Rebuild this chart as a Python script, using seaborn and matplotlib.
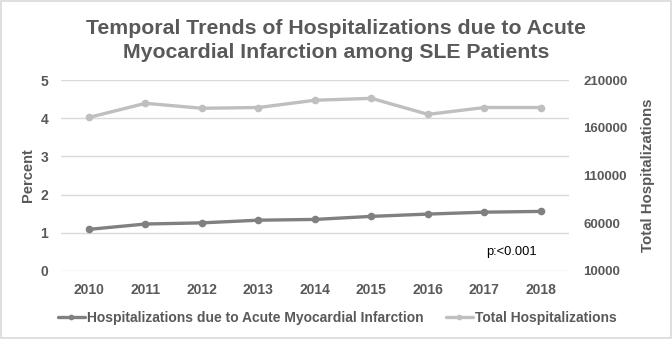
import matplotlib
matplotlib.use("Agg")
import matplotlib.pyplot as plt
import seaborn as sns
import pandas as pd

years = ["2010", "2011", "2012", "2013", "2014", "2015", "2016", "2017", "2018"]
ami_percent = [1.09, 1.23, 1.26, 1.33, 1.35, 1.43, 1.49, 1.54, 1.56]
total_hosp = [170800, 185600, 180400, 181200, 188800, 190800, 174000, 181200, 181200]
left_ticks = [0, 1, 2, 3, 4, 5]
right_ticks = [10000, 60000, 110000, 160000, 210000]

sns.set_theme(style="white")
plt.rcParams["font.family"] = ["Liberation Sans", "DejaVu Sans"]

df = pd.DataFrame({"year": years, "ami": ami_percent, "total": total_hosp})
df["x"] = range(len(years))

TXT = "#595959"
C_AMI = "#808080"
C_TOT = "#bfbfbf"
H = 339.0

fig = plt.figure(figsize=(6.72, 3.39), dpi=100)
ax = fig.add_axes([0.0903, 0.2006, 0.7567, 0.5634])
ax2 = ax.twinx()

sns.lineplot(data=df, x="x", y="ami", ax=ax, color=C_AMI, lw=2.4, marker="o",
             markersize=5.5, markeredgewidth=0, label="Hospitalizations due to Acute Myocardial Infarction", legend=False)
sns.lineplot(data=df, x="x", y="total", ax=ax2, color=C_TOT, lw=2.4, marker="o",
             markersize=5.5, markeredgewidth=0, label="Total Hospitalizations", legend=False)

ax.set_xlim(-0.5, len(years) - 0.5)
ax.set_ylim(0, 5)
ax2.set_ylim(10000, 210000)
ax.set_yticks(left_ticks)
ax2.set_yticks(right_ticks)
ax.set_xticks(range(len(years)))
ax.set_xticklabels(years, fontweight="bold")
ax.set_yticklabels([str(v) for v in left_ticks], fontweight="bold")
ax2.set_yticklabels([str(v) for v in right_ticks], fontweight="bold")
ax.grid(axis="y", color="#d9d9d9", lw=1)
ax.grid(axis="x", visible=False)
ax2.grid(False)
for a in (ax, ax2):
    for s in a.spines.values():
        s.set_visible(False)
    a.tick_params(length=0, colors=TXT)
ax.tick_params(axis="x", labelsize=10, pad=9)
ax.tick_params(axis="y", labelsize=10, pad=9)
ax2.tick_params(axis="y", labelsize=9.5, pad=10)
ax.set_xlabel("")
ax.set_ylabel("Percent", fontsize=10.5, fontweight="bold", color=TXT, labelpad=4)
ax2.set_ylabel("Total Hospitalizations", fontsize=10.8, fontweight="bold", color=TXT, labelpad=10)

ax.text(7.48, 0.5, "p:<0.001", fontsize=9.3, color="#000000", ha="center", va="center")

fig.text(0.5, 1 - 34.5 / H, "Temporal Trends of Hospitalizations due to Acute",
         ha="center", va="baseline", fontsize=15.3, fontweight="bold", color=TXT)
fig.text(0.5, 1 - 58.5 / H, "Myocardial Infarction among SLE Patients",
         ha="center", va="baseline", fontsize=15.3, fontweight="bold", color=TXT)

h1, l1 = ax.get_legend_handles_labels()
h2, l2 = ax2.get_legend_handles_labels()
leg = fig.legend(h1 + h2, l1 + l2, loc="center", bbox_to_anchor=(0.502, 1 - 318 / H), ncol=2, frameon=False,
                 fontsize=10, handlelength=1.95, handletextpad=0.15, columnspacing=1.6, borderaxespad=0,
                 borderpad=0, markerscale=0.75)
for t in leg.get_texts():
    t.set_color(TXT)
    t.set_fontweight("bold")

fig.patches.append(plt.Rectangle((0.001, 0.002), 0.997, 0.995, transform=fig.transFigure,
                                 fill=False, edgecolor="#d9d9d9", lw=1.2))
fig.savefig("out.png", dpi=100)
